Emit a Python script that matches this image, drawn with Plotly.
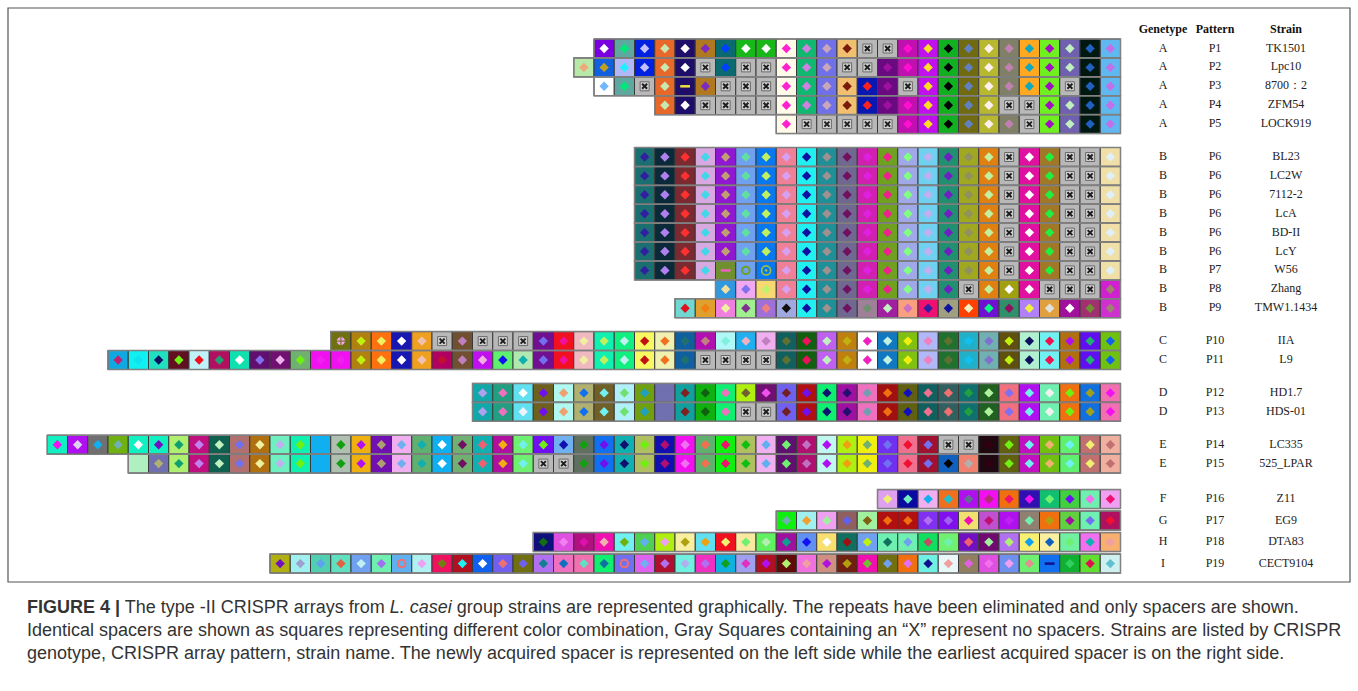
import plotly.graph_objects as go

# ---------------------------------------------------------------- data
GENOTYPE = ["A", "A", "A", "A", "A",
            "B", "B", "B", "B", "B", "B", "B", "B", "B",
            "C", "C", "D", "D", "E", "E", "F", "G", "H", "I"]
PATTERN = ["P1", "P2", "P3", "P4", "P5",
           "P6", "P6", "P6", "P6", "P6", "P6", "P7", "P8", "P9",
           "P10", "P11", "P12", "P13", "P14", "P15", "P16", "P17", "P18", "P19"]
STRAIN = ["TK1501", "Lpc10", "8700：2", "ZFM54", "LOCK919",
          "BL23", "LC2W", "7112-2", "LcA", "BD-II", "LcY", "W56", "Zhang", "TMW1.1434",
          "IIA", "L9", "HD1.7", "HDS-01", "LC335", "525_LPAR",
          "Z11", "EG9", "DTA83", "CECT9104"]
GROUP = [0, 0, 0, 0, 0, 1, 1, 1, 1, 1, 1, 1, 1, 1, 2, 2, 3, 3, 4, 4, 5, 5, 5, 5]

# spacer cells, newest on the left: "background/mark[/symbol]", "X" = no spacer
P1 = ["7a00e0/ffffff", "5fa8a0/00e87a", "0022e0/c0c0ff", "e8682a/c8e8b0", "1e0e6a/ffffff",
      "b07820/7a2cc0", "0a6a70/0040ff", "18b818/ffffff", "18b818/ffffff", "fffbe8/ff20d0",
      "10b870/d080e0", "7070e8/c8a8b8", "f0c070/7a1a0a", "X", "X", "c010b0/ff10d0",
      "c010f0/ffe020", "10b020/000000", "706a10/6080c0", "b8b830/fff0f0", "808068/c080b0",
      "ffa820/10a8c0", "70f020/a010c0", "7060b0/c0f0c0", "001810/2060c0", "60b8f0/c070e8"]
P2 = ["b8e8a8/f0a878", "1060e0/c0a020", "b0b8f8/20f0ff", "0022e0/c0c0ff", "e8682a/c8e8b0",
      "1e0e6a/ffffff", "X", "0a6a70/0040ff", "X", "X", "fffbe8/ff20d0", "10b870/d080e0",
      "7070e8/c8a8b8", "X", "X", "6a0a80/a010a0", "c010b0/ff10d0", "c010f0/ffe020",
      "10b020/000000", "706a10/6080c0", "b8b830/fff0f0", "808068/c080b0", "ffa820/10a8c0",
      "70f020/a010c0", "7060b0/c0f0c0", "001810/2060c0", "60b8f0/c070e8"]
P3 = ["ffffff/70b8f8", "5fa8a0/00e87a", "X", "e8682a/c8e8b0", "1e0e6a/f0e040/-",
      "b07820/7a2cc0", "X", "X", "X", "fffbe8/ff20d0", "10b870/d080e0", "7070e8/c8a8b8",
      "f0c070/7a1a0a", "0818b0/ff2020", "6a0a80/a010a0", "X", "c010f0/ffe020",
      "10b020/000000", "706a10/6080c0", "b8b830/fff0f0", "808068/c080b0", "ffa820/10a8c0",
      "70f020/a010c0", "X", "001810/2060c0", "60b8f0/c070e8"]
P4 = ["e8682a/c8e8b0", "1e0e6a/ffffff", "X", "X", "X", "X", "fffbe8/ff20d0",
      "10b870/d080e0", "7070e8/c8a8b8", "f0c070/7a1a0a", "0818b0/ff2020", "6a0a80/a010a0",
      "c010b0/ff10d0", "c010f0/ffe020", "10b020/000000", "706a10/6080c0", "b8b830/fff0f0",
      "X", "X", "70f020/a010c0", "7060b0/c0f0c0", "001810/2060c0", "60b8f0/c070e8"]
P5 = ["fffbe8/ff20d0", "X", "X", "X", "X", "X", "c010b0/ff10d0", "c010f0/ffe020",
      "10b020/000000", "706a10/6080c0", "b8b830/fff0f0", "808068/c080b0", "X",
      "70f020/a010c0", "7060b0/c0f0c0", "001810/2060c0", "60b8f0/c070e8"]
P6 = ["1a7070/3020a0", "0a2a3a/b080f0", "7a2a30/ff3030", "d8a8e0/40d8e8", "9018d0/c0a070",
      "70a0f0/60e0a0", "0878f0/c0f060", "f08098/d8a0f0", "20f0f0/1010a0", "209098/a09090",
      "706890/701060", "d020b0/e020e0", "70a020/f02090", "a0a8e8/80ff80", "70d0f0/c0b0f0",
      "209070/7020c0", "a0a820/909060", "e08010/c0f0a0", "X", "e010a0/ffffff",
      "a07828/20f040", "X", "X", "f0e0a8/e0f0f8"]
P7 = ["1a7070/3020a0", "0a2a3a/b080f0", "7a2a30/ff3030", "d8a8e0/40d8e8", "709030/f060c0/-",
      "70a0f0/70a020/o", "0878f0/a0c040/@", "f08098/d8a0f0", "20f0f0/1010a0", "209098/a09090",
      "706890/701060", "d020b0/e020e0", "70a020/f02090", "a0a8e8/80ff80", "70d0f0/c0b0f0",
      "209070/7020c0", "a0a820/909060", "e08010/c0f0a0", "X", "e010a0/ffffff",
      "a07828/20f040", "X", "X", "f0e0a8/e0f0f8"]
P8 = ["3098e0/f0e0a0", "f0a8f0/8070f0", "f8d870/c0f070", "f08098/d8a0f0", "20f0f0/1010a0",
      "209098/a09090", "706890/701060", "d020b0/e020e0", "70a020/f02090", "a0a8e8/80ff80",
      "70d0f0/c0b0f0", "209070/7020c0", "X", "e08010/c0f0a0", "a0a010/ffffff",
      "e010a0/ffffff", "X", "X", "X", "d020d0/a08070"]
P9 = ["70d8d0/e01020", "e0a030/f08010", "f080e0/f0f0a0", "a0f090/803090", "a070d8/f08080",
      "a0a8e0/101010", "20f0f0/1010a0", "209098/a09090", "706890/701060", "a08098/709070",
      "a020a0/c0f0c0", "f8a080/d070c0", "f01070/3020a0", "a0a080/1010a0", "ff4000/f0f0c0",
      "7010d0/00ff80", "30906a/901060", "b080f8/f0f040", "e0a040/e0e0e0", "a0109a/ffffff",
      "a03070/709030", "d030d0/a08070"]
P10 = ["707010/f0a0f0/+", "b08010/c0f010", "ff7010/f0f060", "1818b0/ffffff", "f0a020/f0c0b0",
       "X", "705030/c080c0", "X", "X", "X", "701090/7070f0", "f01020/f010a0", "f0b8c0/f0f0a0",
       "10f0b0/c0f060", "10f080/c0f0f0", "f8f860/c01010", "f0f0b0/f07020", "1060a0/207070",
       "b010b0/c08080", "b0f8f8/80f0e0", "20b0f0/f0b0c0", "f0b0f0/c080c0", "106060/607030",
       "106010/f01060", "c060f0/c0f0c0", "c08010/c0b010", "ffffff/f020c0", "1078c0/c0f0e0",
       "80c010/f0f010", "b0b8f8/f080c0", "207030/607030", "20b0c8/10c0f0", "70b0b0/8070d0",
       "605010/c0f010", "b0f0d0/101060", "70f0f0/f01050", "b07010/b010f0", "6010f0/20b070",
       "70c010/1060f0"]
P11 = ["10a8e0/c02070", "10f0f0/10e0f0", "20e0c0/101060", "601020/70f010", "c0f0f8/f01020",
       "b01060/20a070", "10e0b0/ffffff", "600f70/8070f0", "701070/f0b0f0", "70b070/70f010",
       "f010f0/f020f0", "f010f0/f020f0", "b08010/c0f010", "ff7010/f0f060", "1818b0/ffffff",
       "f0a020/f0c0b0", "b00060/c01030", "705030/c080c0", "c010f0/f0b0e0", "60f070/1010f0",
       "b0e8b0/10b0b0", "701090/7070f0", "f01020/f010a0", "f0b8c0/f0f0a0", "10f0b0/c0f060",
       "10f080/c0f0f0", "f8f860/c01010", "f0f0b0/f07020", "1060a0/207070", "X", "X", "X", "X",
       "106060/607030", "106010/f01060", "c060f0/c0f0c0", "c08010/c0b010", "ffffff/f020c0",
       "1078c0/c0f0e0", "80c010/f0f010", "b0b8f8/f080c0", "207030/607030", "20b0c8/10c0f0",
       "70b0b0/8070d0", "605010/c0f010", "b0f0d0/101060", "70f0f0/f01050", "b07010/b010f0",
       "6010f0/20b070", "70c010/1060f0"]
P12 = ["10a8a8/b0a0f0", "20a080/f070c0", "60e0f0/ffffff", "706020/7010f0", "b0f8f0/f0a070",
       "b0b070/1070f0", "706028/70f0f0", "b0f0f8/70e070", "70a010/20a0c0", "7070b0/7070b0",
       "10a0a0/802020", "10b010/106010", "10f070/f070c0", "b0f010/706030", "701070/f050f0",
       "7060f0/702020", "b01010/7010f0", "10f070/101070", "a010a0/201070", "f070c0/70a0b0",
       "a01010/f07010", "606010/1010c0", "106060/f07090", "306060/f07070", "107070/20a040",
       "206020/b0f0a0", "f07080/8070f0", "b010f0/70f0f0", "70f0b0/f0f0f0", "f07010/70f010",
       "1070e0/a0a020", "f070b0/f010f0"]
P13 = ["10a8a8/b0a0f0", "20a080/f070c0", "60e0f0/f0f0ff", "706020/7010f0", "b0f8f0/f0a070",
       "b0b070/1070f0", "706028/70f0f0", "b0f0f8/70e070", "70a010/20a0c0", "7070b0/7070b0",
       "10a0a0/802020", "10b010/106010", "10f070/f070c0", "X", "X",
       "7060f0/702020", "b01010/7010f0", "10f070/101070", "a010a0/201070", "f070c0/70a0b0",
       "a01010/f07010", "606010/1010c0", "106060/f07090", "306060/f07070", "107070/20a040",
       "206020/b0f0a0", "f07080/8070f0", "b010f0/70f0f0", "70f0b0/f0f0f0", "f07010/70f010",
       "1070e0/a0a020", "f070b0/f010f0"]
P14 = ["10f0c0/f010f0", "b010f0/e0d0f0", "707070/10b0f0", "70b010/70b0b0", "10f0c0/ffffff",
       "10f0c0/7010c0", "b0f070/10a070", "c01080/c080f0", "106050/c0f0c0", "b07070/7070f0",
       "b07010/f0f0a0", "70f0c0/c0b0f0", "10f0b0/70f010", "10b0f0/10b0f0", "b0c0b0/10a010",
       "f0b010/b010f0", "7010b0/b0a070", "f0b0f0/70b0f0", "60b070/10b0b0", "10b0f0/ffffff",
       "70b070/701060", "10b0b0/f06070", "b010a0/f0b010", "70f070/70f0f0", "7010f0/70f010",
       "70b0f0/1010b0", "607060/10a010", "1070f0/7010f0", "10b0b0/101070", "b0c060/70f010",
       "1010b0/b01070", "f010f0/f070f0", "60b070/f07050", "10f010/f01070", "b0c060/10c010",
       "f0b0f0/60b0f0", "601070/70f070", "b01070/c070c0", "c0f8f0/b010f0", "b0f010/f0a010",
       "f0f010/70b070", "7030f0/7070f0", "f07090/f01030", "a01030/7070f0", "X", "X",
       "200810/300010", "606010/70f010", "c010c0/70f0f0", "70c010/f0b070", "60f070/70f0f0",
       "c07070/f0f070", "f0b0a0/c07070"]
P15 = ["b0f0c0/b0f0c0", "7070b0/b0b070", "b0f070/10a070", "c01080/c080f0", "106050/c0f0c0",
       "b07070/7070f0", "b07010/f0f0a0", "70f0c0/c0b0f0", "10f0b0/70f010", "10b0f0/10b0f0",
       "b0c0b0/10a010", "f0b010/b010f0", "7010b0/b0a070", "f0b0f0/70b0f0", "60b070/10b0b0",
       "10b0f0/ffffff", "70b070/701060", "10b0b0/f06070", "b010a0/f0b010", "70f070/70f0f0",
       "X", "X", "607060/10a010", "1070f0/7010f0", "10b0b0/101070", "b0c060/70f010",
       "1010b0/b01070", "f010f0/f070f0", "60b070/f07050", "10f010/f01070", "b0c060/10c010",
       "f0b0f0/60b0f0", "601070/70f070", "b01070/c070c0", "c0f8f0/b010f0", "b0f010/f0a010",
       "f0f010/70b070", "7030f0/7070f0", "f07090/f01030", "a01030/7070f0", "1060c0/000000",
       "f08070/b0b0b0", "200810/300010", "606010/70f010", "c010c0/70f0f0", "70c010/f0b070",
       "60f070/70f0f0", "c07070/f0f070", "f0b0a0/c07070"]
P16 = ["e0a0f0/f0f070", "0a0aa0/70f0c0", "f0b0f0/10b0f0", "f07020/20c0d0", "b010f0/607090",
       "f010f0/b03070", "f07010/f01070", "3010b0/f010f0", "10c070/70f070", "40d040/7010f0",
       "70f0b0/f070f0", "f0a0f0/f01070"]
P17 = ["10f010/70b0b0", "a0f0f0/f0a030", "f0a0f0/a0f0a0", "906060/6060f0", "a0f0a0/806010",
       "b01010/f07010", "b01010/f07010", "8030f0/b070f0", "8010f0/a060f0", "f0e070/f010b0",
       "c050d0/c01070", "b010f0/c020f0", "908070/70f0b0", "f07010/b0a010", "60d040/a010a0",
       "70f0b0/7070f0", "b01060/f01030"]
P18 = ["10107a/107010", "e050e0/f080f0", "b01080/e010b0", "f010b0/f0b0b0", "70f0f0/70b010",
       "50d050/60b0f0", "b0f010/f0a0f0", "f8f0a0/b0a010", "60e0f0/f0a010", "f01020/f0f070",
       "f8e8a0/70f070", "60f060/b0f0b0", "a010a0/10a090", "6090f0/1010f0", "f8e070/ffffff",
       "107060/a01010", "70a0f0/c0f010", "70f0b0/107060", "70f0b0/70a0f0", "10e060/c05060",
       "70f070/70f0b0", "7010c0/f06070", "700a70/a0f0a0", "b070f0/b0f070", "f8f070/10a0f0",
       "f8f0a0/1060c0", "70f0a0/70f070", "f070f0/10b0b0", "f8b070/f0a0a0"]
P19 = ["b0b010/7010c0", "a0f0f0/a0a0d0", "50d0b0/60a0f0", "60e0c0/e06040", "70a0f0/c0f0f0",
       "70f0b0/a070f0", "60b0f0/f07070/o", "b0f0f0/f0a0f0", "f01060/708010", "b01020/20f0f0",
       "1060f0/ffffff", "7060f0/f07070", "707010/7060f0", "b070f0/108090", "f070c0/1070c0",
       "f070b0/60e0c0", "10f070/1070a0", "7070f0/f07070/o", "e060f0/70b0f0", "b01030/b070f0",
       "70f0e0/b0b0f0", "f030c0/b070f0", "10b0e0/10a020", "a0a0f0/e030c0", "b01020/b010f0",
       "600a0a/b0f070", "f070e0/f0a0a0", "d09080/b010e0", "702010/b0a010", "f010b0/70c030",
       "707010/70a0f0", "f07010/e070f0", "70f0e0/101090", "e8f8f8/f0a0a0", "908060/e060e0",
       "e050e0/f070f0", "7090f0/f0a0f0", "70f070/e09090", "1070f0/101090/-", "10b030/30d060",
       "60e030/e01050", "d0f0f0/60c0d0"]

ARRAYS = [P1, P2, P3, P4, P5, P6, P6, P6, P6, P6, P6, P7, P8, P9,
          P10, P11, P12, P13, P14, P15, P16, P17, P18, P19]

CAPTION = [
    "<b>FIGURE 4 |</b> The type -II CRISPR arrays from <i>L. casei</i> group strains are represented "
    "graphically. The repeats have been eliminated and only spacers are shown.",
    "Identical spacers are shown as squares representing different color combination, Gray Squares "
    "containing an “X” represent no spacers. Strains are listed by CRISPR",
    "genotype, CRISPR array pattern, strain name. The newly acquired spacer is represented on the "
    "left side while the earliest acquired spacer is on the right side.",
]

# ---------------------------------------------------------------- layout
W, H = 1358, 691
RIGHT = 1120.5          # right end of every array
CELL_W = 20.25
CELL_H = 19.0
ROW_PITCH = [18.9, 18.9, 18.9, 18.9, 18.9, 21.5]
FIRST_Y = 48.5
GROUP_GAP = 14.0
X_GRAY = "#b8b8b8"

# vertical centre of each row
row_y = []
y = FIRST_Y
for i, g in enumerate(GROUP):
    if i > 0:
        y += ROW_PITCH[g]
        if g != GROUP[i - 1]:
            y += GROUP_GAP
    row_y.append(y)

cell_y, cell_base, cell_col = [], [], []
mark = {"d": ([], [], []), "-": ([], [], []), "o": ([], [], []), "@": ([], [], []), "+": ([], [], [])}
plus_edge = []
gx, gy = [], []
frames = []
for r, cells in enumerate(ARRAYS):
    n = len(cells)
    left = RIGHT - n * CELL_W
    frames.append((left, row_y[r]))
    for k, c in enumerate(cells):
        x0 = left + k * CELL_W
        cx = x0 + CELL_W / 2
        cell_y.append(row_y[r])
        cell_base.append(x0)
        if c == "X":
            cell_col.append(X_GRAY)
            gx.append(cx)
            gy.append(row_y[r])
            continue
        parts = c.split("/")
        cell_col.append("#" + parts[0])
        sym = parts[2] if len(parts) > 2 else "d"
        mx, my, mc = mark[sym]
        mx.append(cx)
        my.append(row_y[r])
        mc.append("#" + parts[1])
        if sym == "+":
            plus_edge.append("#" + parts[0])

fig = go.Figure()

fig.add_trace(go.Bar(
    orientation="h", y=cell_y, x=[CELL_W] * len(cell_y), base=cell_base,
    width=[CELL_H] * len(cell_y),
    marker=dict(color=cell_col, line=dict(color="#3a3a3a", width=1)),
    hoverinfo="skip", showlegend=False))


def add_marks(key, **marker):
    mx, my, mc = mark[key]
    fig.add_trace(go.Scatter(x=mx, y=my, mode="markers", hoverinfo="skip", showlegend=False,
                             marker=dict(color=mc, **marker)))


add_marks("d", symbol="diamond", size=7.2, line=dict(width=0))
add_marks("-", symbol="line-ew-open", size=7, line=dict(width=2.5))
add_marks("o", symbol="circle-open", size=7.5, line=dict(width=2))
add_marks("@", symbol="circle-open-dot", size=9, line=dict(width=1.6))
add_marks("+", symbol="circle-cross", size=9, line=dict(color=plus_edge, width=1))

# empty spacer: small grey box with an x
fig.add_trace(go.Scatter(x=gx, y=gy, mode="markers", hoverinfo="skip", showlegend=False,
                         marker=dict(symbol="square", size=9, color="#d2d2d2",
                                     line=dict(color="#6a6a6a", width=1))))
fig.add_trace(go.Scatter(x=gx, y=gy, mode="markers", hoverinfo="skip", showlegend=False,
                         marker=dict(symbol="x-thin-open", size=5, color="#1e1e1e",
                                     line=dict(width=2))))

shapes = []
for left, yc in frames:
    shapes.append(dict(type="rect", xref="x", yref="y", x0=left, x1=RIGHT,
                       y0=yc - CELL_H / 2, y1=yc + CELL_H / 2,
                       line=dict(color="#808080", width=1.5), fillcolor="rgba(0,0,0,0)"))
# figure frame
shapes.append(dict(type="rect", xref="x", yref="y", x0=8, x1=1350, y0=8, y1=582,
                   line=dict(color="#555555", width=1.2), fillcolor="rgba(0,0,0,0)"))
fig.update_layout(shapes=shapes)

# table of genotype / pattern / strain
COL_X = [1163, 1215, 1286]
serif = "Liberation Serif, Times New Roman, serif"
fig.add_trace(go.Scatter(x=COL_X, y=[30] * 3, mode="text", hoverinfo="skip", showlegend=False,
                         text=["<b>Genetype</b>", "<b>Pattern</b>", "<b>Strain</b>"],
                         textfont=dict(family=serif, size=12, color="#111111")))
for col, vals in zip(COL_X, (GENOTYPE, PATTERN, STRAIN)):
    fig.add_trace(go.Scatter(x=[col] * len(vals), y=row_y, mode="text", text=vals,
                             hoverinfo="skip", showlegend=False,
                             textfont=dict(family=serif, size=12, color="#222222")))

for i, line in enumerate(CAPTION):
    fig.add_annotation(x=25, y=607 + i * 23, xref="x", yref="y", text=line, showarrow=False,
                       xanchor="left", yanchor="middle",
                       font=dict(family="Liberation Sans, Arial, sans-serif", size=18,
                                 color="#333333"))

fig.update_layout(
    width=W, height=H, margin=dict(l=0, r=0, t=0, b=0),
    paper_bgcolor="white", plot_bgcolor="white", barmode="overlay",
    xaxis=dict(range=[0, W], visible=False, fixedrange=True),
    yaxis=dict(range=[H, 0], visible=False, fixedrange=True),
    showlegend=False,
)

fig.write_html("out.html")
